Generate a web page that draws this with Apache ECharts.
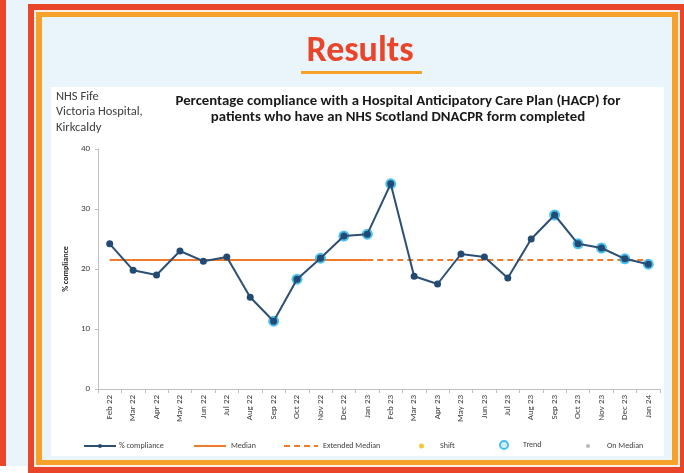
<!DOCTYPE html>
<html>
<head>
<meta charset="utf-8">
<script src="https://cdn.jsdelivr.net/npm/echarts@6/dist/echarts.min.js"></script>
<style>
html,body{margin:0;padding:0;background:#eaf5fb;}
#chart{width:684px;height:473px;}
</style>
</head>
<body>
<div id="chart"></div>
<script>
const categories = ['Feb 22','Mar 22','Apr 22','May 22','Jun 22','Jul 22','Aug 22','Sep 22','Oct 22','Nov 22','Dec 22','Jan 23',
  'Feb 23','Mar 23','Apr 23','May 23','Jun 23','Jul 23','Aug 23','Sep 23','Oct 23','Nov 23','Dec 23','Jan 24'];
const compliance = [24.2,19.8,19.0,23.0,21.3,22.0,15.3,11.3,18.3,21.8,25.5,25.8,
  34.2,18.8,17.5,22.5,22.0,18.5,25.0,29.0,24.2,23.5,21.7,20.8];
const trendFlags = [0,0,0,0,0,0,0,1,1,1,1,1, 1,0,0,0,0,0,0,1,1,1,1,1];
const median = [21.5,21.5,21.5,21.5,21.5,21.5,21.5,21.5,21.5,21.5,21.5,21.5,
  null,null,null,null,null,null,null,null,null,null,null,null];
const extendedMedian = [null,null,null,null,null,null,null,null,null,null,null,21.5,
  21.5,21.5,21.5,21.5,21.5,21.5,21.5,21.5,21.5,21.5,21.5,21.5];
const yTicks = [0,10,20,30,40];

const trendData = compliance.map((v,i)=> trendFlags[i] ? v : null);
const FONT = 'Carlito, "Liberation Sans Narrow", "Open Sans", sans-serif';
const RED = '#e8452b', ORANGE = '#f5a12a', LB = '#eaf5fb';

const chart = echarts.init(document.getElementById('chart'));
const TS = (pad) => ({fontSize:8, color:'#404040', fontFamily:FONT, padding:pad || 0});
const lg = (name, left, extra) => Object.assign({
  data:[name], left:left, top:442, padding:0, itemWidth:31, itemHeight:5,
  textStyle:TS(), selectedMode:false
}, extra || {});

chart.setOption({
  animation:false,
  backgroundColor: LB,
  graphic:[
    {type:'rect', z:-10, shape:{x:0,y:0,width:6,height:466}, style:{fill:RED}},
    {type:'rect', z:-10, shape:{x:0,y:466,width:28,height:7}, style:{fill:'#ffffff'}},
    {type:'rect', z:-10, shape:{x:28,y:4,width:656,height:469}, style:{fill:RED}},
    {type:'rect', z:-10, shape:{x:34,y:10,width:646,height:457}, style:{fill:'#fbeee6'}},
    {type:'rect', z:-10, shape:{x:36,y:12,width:642,height:453}, style:{fill:ORANGE}},
    {type:'rect', z:-10, shape:{x:42,y:17,width:630,height:443}, style:{fill:LB}},
    {type:'rect', z:-10, shape:{x:51,y:87,width:613,height:369}, style:{fill:'#ffffff'}},
    {type:'text', z:5, x:360, y:34, style:{text:'Results', fill:RED, font:'bold 36px '+FONT, align:'center'}},
    {type:'rect', z:5, shape:{x:301,y:71,width:121,height:3}, style:{fill:ORANGE}},
    {type:'text', z:5, x:56, y:89, style:{text:'NHS Fife\nVictoria Hospital,\nKirkcaldy', fill:'#404040', font:'12.5px '+FONT, lineHeight:15.5}},
    {type:'text', z:5, x:398, y:93, style:{text:'Percentage compliance with a Hospital Anticipatory Care Plan (HACP) for\npatients who have an NHS Scotland DNACPR form completed', fill:'#1a1a1a', font:'bold 14.8px '+FONT, lineHeight:16.5, align:'center'}}
  ],
  grid:{left:98, right:24, top:149, bottom:84},
  xAxis:{
    type:'category', data:categories, boundaryGap:true,
    axisLine:{lineStyle:{color:'#bfbfbf', width:1}},
    axisTick:{show:true, length:4, lineStyle:{color:'#bfbfbf'}},
    axisLabel:{rotate:90, fontSize:9, color:'#404040', margin:6, fontFamily:FONT}
  },
  yAxis:{
    type:'value', min:yTicks[0], max:yTicks[yTicks.length-1], interval:10,
    name:'% compliance', nameLocation:'middle', nameGap:17, nameRotate:90,
    nameTextStyle:{fontSize:8, fontWeight:'bold', color:'#262626', fontFamily:FONT},
    axisLine:{show:true, lineStyle:{color:'#bfbfbf', width:1}},
    axisTick:{show:true, length:3, lineStyle:{color:'#bfbfbf'}},
    splitLine:{show:false},
    axisLabel:{fontSize:9, color:'#404040', margin:8, fontFamily:FONT}
  },
  legend:[
    lg('% compliance', 83, {itemWidth:32, textStyle:TS([0,0,0,-2])}),
    lg('Median', 193, {itemWidth:32, itemStyle:{color:'rgba(0,0,0,0)', borderWidth:0, opacity:0}}),
    lg('Extended Median', 283, {itemWidth:34, itemStyle:{color:'rgba(0,0,0,0)', borderWidth:0, opacity:0}}),
    lg('Shift', 419, {icon:'circle', itemWidth:5, itemHeight:5, top:442, textStyle:TS([0,0,0,11])}),
    lg('Trend', 499, {icon:'circle', itemWidth:8, itemHeight:8, top:440, itemStyle:{color:'#c8ecfa', borderColor:'#1fb0ea', borderWidth:2}, textStyle:TS([0,0,0,10])}),
    lg('On Median', 586, {icon:'circle', itemWidth:4, itemHeight:4, top:442, textStyle:TS([0,0,0,12])})
  ],
  series:[
    {name:'Median', type:'line', data:median, symbol:'none', z:2,
     lineStyle:{color:'#f07b2c', width:2}, itemStyle:{color:'#f07b2c'}},
    {name:'Extended Median', type:'line', data:extendedMedian, symbol:'none', z:2,
     lineStyle:{color:'#f07b2c', width:2, type:[6,4]}, itemStyle:{color:'#f07b2c'}},
    {name:'Trend', type:'scatter', data:trendData, symbol:'circle', symbolSize:11, z:3,
     itemStyle:{color:'#1fb0ea'}},
    {name:'% compliance', type:'line', data:compliance, symbol:'circle', symbolSize:7, z:4,
     lineStyle:{color:'#2b4f75', width:2}, itemStyle:{color:'#234a72'}},
    {name:'Shift', type:'scatter', data:[], itemStyle:{color:'#f5b800'}},
    {name:'On Median', type:'scatter', data:[], itemStyle:{color:'#a6a6a6'}}
  ]
});
</script>
</body>
</html>
